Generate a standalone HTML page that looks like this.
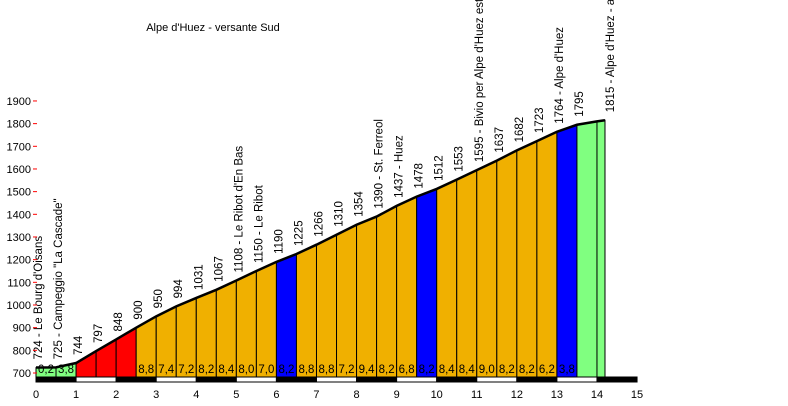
<!DOCTYPE html>
<html><head><meta charset="utf-8"><style>
body{margin:0;background:#fff;width:788px;height:406px;overflow:hidden}
svg{display:block;font-family:"Liberation Sans",sans-serif;font-size:12px}
</style></head><body>
<svg id="chart" width="788" height="406" viewBox="0 0 788 406">
<text x="213" y="31" text-anchor="middle" font-size="11">Alpe d'Huez - versante Sud</text>
</svg>
<script>
const kms=[0,0.5,1,1.5,2,2.5,3,3.5,4,4.5,5,5.5,6,6.5,7,7.5,8,8.5,9,9.5,10,10.5,11,11.5,12,12.5,13,13.5,14,14.2];
const alts=[724,725,744,797,848,900,950,994,1031,1067,1108,1150,1190,1225,1266,1310,1354,1390,1437,1478,1512,1553,1595,1637,1682,1723,1764,1795,1810,1815];
const pointLabels=["724 - Le Bourg d'Oisans","725 - Campeggio \"La Cascade\"","744","797","848","900","950","994","1031","1067","1108 - Le Ribot d'En Bas","1150 - Le Ribot","1190","1225","1266","1310","1354","1390 - St. Ferreol","1437 - Huez","1478","1512","1553","1595 - Bivio per Alpe d'Huez est","1637","1682","1723","1764 - Alpe d'Huez","1795","","1815 - Alpe d'Huez - arrivo"];
const gradeLabels=["0,2","3,8","","","","8,8","7,4","7,2","8,2","8,4","8,0","7,0","8,2","8,8","8,8","7,2","9,4","8,2","6,8","8,2","8,4","8,4","9,0","8,2","8,2","6,2","3,8",""];
const segColors=["#80ff80","#80ff80","#ff0000","#ff0000","#ff0000","#f0b000","#f0b000","#f0b000","#f0b000","#f0b000","#f0b000","#f0b000","#0000ff","#f0b000","#f0b000","#f0b000","#f0b000","#f0b000","#f0b000","#0000ff","#f0b000","#f0b000","#f0b000","#f0b000","#f0b000","#f0b000","#0000ff","#80ff80","#80ff80"];
const yTicks=[700,800,900,1000,1100,1200,1300,1400,1500,1600,1700,1800,1900];
const xTicks=[0,1,2,3,4,5,6,7,8,9,10,11,12,13,14,15];
const X=k=>36+k*40.07, Y=a=>373-(a-700)*0.2267;
const svg=document.getElementById('chart'), NS='http://www.w3.org/2000/svg';
function mk(t,a,txt){const e=document.createElementNS(NS,t);for(const k in a)e.setAttribute(k,a[k]);if(txt!==undefined)e.textContent=txt;svg.appendChild(e);return e;}
const base=Y(700)+4;
for(let i=0;i<kms.length-1;i++){
 const p=mk('polygon',{points:`${X(kms[i])},${base} ${X(kms[i])},${Y(alts[i])} ${X(kms[i+1])},${Y(alts[i+1])} ${X(kms[i+1])},${base}`,fill:segColors[i],stroke:'#000','stroke-width':1});
 
 
 if(gradeLabels[i]){const t=mk('text',{x:(X(kms[i])+X(kms[i+1]))/2,y:373,'text-anchor':'middle','font-size':'11.5'},gradeLabels[i]);
 
 }
}
const line=mk('polyline',{points:kms.map((k,i)=>X(k)+','+Y(alts[i])).join(' '),fill:'none',stroke:'#000','stroke-width':2.5});


kms.forEach((k,i)=>{if(!pointLabels[i])return;const x=X(k)+ (i===kms.length-1?9:6),y=Y(alts[i])-8;
 const t=mk('text',{x:x,y:y,transform:`rotate(-90 ${x} ${y})`,'font-size':'11.5'},pointLabels[i]);
 
 });
yTicks.forEach(v=>{const t=mk('text',{x:31,y:Y(v)+4,'text-anchor':'end','font-size':'11'},v);
 
 
 const l=mk('line',{x1:33,x2:37,y1:Y(v),y2:Y(v),stroke:'#f00'});
 
 });
for(let k=0;k<15;k++){const r=mk('rect',{x:X(k),y:377,width:40.07,height:5,fill:k%2?'#fff':'#000',stroke:'#000','stroke-width':1});
 
 }
xTicks.forEach(v=>{const t=mk('text',{x:X(v),y:398,'text-anchor':'middle','font-size':'11'},v);
 
 });
</script>
</body></html>
